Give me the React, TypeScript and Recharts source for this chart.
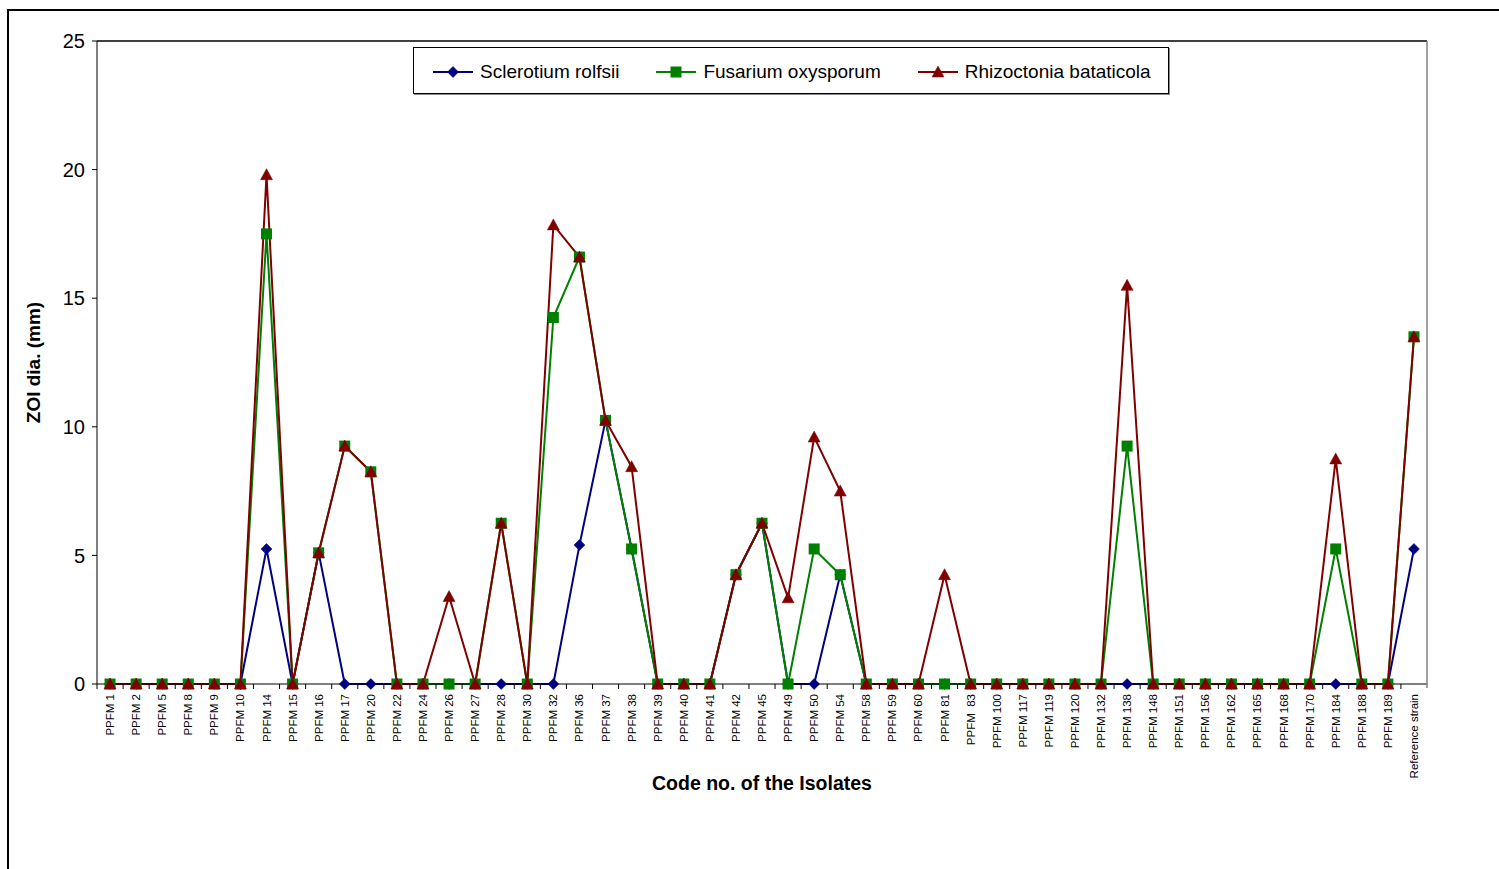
import React from 'react';
import { LineChart, Line, XAxis, YAxis, Legend } from 'recharts';

const categories = [
  'PPFM 1', 'PPFM 2', 'PPFM 5', 'PPFM 8', 'PPFM 9', 'PPFM 10', 'PPFM 14', 'PPFM 15', 'PPFM 16', 'PPFM 17',
  'PPFM 20', 'PPFM 22', 'PPFM 24', 'PPFM 26', 'PPFM 27', 'PPFM 28', 'PPFM 30', 'PPFM 32', 'PPFM 36', 'PPFM 37',
  'PPFM 38', 'PPFM 39', 'PPFM 40', 'PPFM 41', 'PPFM 42', 'PPFM 45', 'PPFM 49', 'PPFM 50', 'PPFM 54', 'PPFM 58',
  'PPFM 59', 'PPFM 60', 'PPFM 81', 'PPFM  83', 'PPFM 100', 'PPFM 117', 'PPFM 119', 'PPFM 120', 'PPFM 132', 'PPFM 138',
  'PPFM 148', 'PPFM 151', 'PPFM 156', 'PPFM 162', 'PPFM 165', 'PPFM 168', 'PPFM 170', 'PPFM 184', 'PPFM 188', 'PPFM 189',
  'Reference strain',
];

const sclerotium = [
  0, 0, 0, 0, 0, 0, 5.25, 0, 5.1, 0,
  0, 0, 0, 0, 0, 0, 0, 0, 5.4, 10.25,
  5.25, 0, 0, 0, 4.25, 6.25, 0, 0, 4.25, 0,
  0, 0, 0, 0, 0, 0, 0, 0, 0, 0,
  0, 0, 0, 0, 0, 0, 0, 0, 0, 0,
  5.25,
];

const fusarium = [
  0, 0, 0, 0, 0, 0, 17.5, 0, 5.1, 9.25,
  8.25, 0, 0, 0, 0, 6.25, 0, 14.25, 16.6, 10.25,
  5.25, 0, 0, 0, 4.25, 6.25, 0, 5.25, 4.25, 0,
  0, 0, 0, 0, 0, 0, 0, 0, 0, 9.25,
  0, 0, 0, 0, 0, 0, 0, 5.25, 0, 0,
  13.5,
];

const rhizoctonia = [
  0, 0, 0, 0, 0, 0, 19.8, 0, 5.1, 9.25,
  8.25, 0, 0, 3.4, 0, 6.25, 0, 17.85, 16.6, 10.25,
  8.45, 0, 0, 0, 4.25, 6.25, 3.35, 9.6, 7.5, 0,
  0, 0, 4.25, 0, 0, 0, 0, 0, 0, 15.5,
  0, 0, 0, 0, 0, 0, 0, 8.75, 0, 0,
  13.5,
];

const yTicks = [0, 5, 10, 15, 20, 25];

const seriesNames = ['Sclerotium rolfsii', 'Fusarium oxysporum', 'Rhizoctonia bataticola'];
const seriesColors = ['#000080', '#008000', '#800000'];

const data = categories.map((code, i) => ({
  code,
  s: sclerotium[i],
  f: fusarium[i],
  r: rhizoctonia[i],
}));

const FONT = '"Liberation Sans", Arial, sans-serif';
const CHART_W = 1491;
const CHART_H = 853;
const PLOT_W = 1330;
const BAND = PLOT_W / categories.length;
const PAD = { left: BAND / 2, right: BAND / 2 };

const markerShape = (kind: number, cx: number, cy: number, color: string, key?: string) => {
  if (kind === 0) {
    const h = 5.5;
    return (
      <polygon key={key} points={`${cx},${cy - h} ${cx + h},${cy} ${cx},${cy + h} ${cx - h},${cy}`} fill={color} stroke={color} strokeWidth={0.5} />
    );
  }
  if (kind === 1) {
    return <rect key={key} x={cx - 5.5} y={cy - 5.5} width={11} height={11} fill={color} />;
  }
  return (
    <polygon key={key} points={`${cx},${cy - 6} ${cx + 6},${cy + 5} ${cx - 6},${cy + 5}`} fill={color} stroke={color} strokeWidth={0.5} />
  );
};

const makeDot = (kind: number, color: string) => (props: any) => {
  const { cx, cy, index } = props;
  if (cx == null || cy == null) return <g key={`n-${kind}-${index}`} />;
  return markerShape(kind, cx, cy, color, `m-${kind}-${index}`);
};

const XTick = (props: any) => {
  const { x, y, payload, index } = props;
  const axisY = y - 10;
  const isLast = index === categories.length - 1;
  return (
    <g>
      <line x1={x - BAND / 2} x2={x - BAND / 2} y1={axisY} y2={axisY + 5} stroke="#000" strokeWidth={1} />
      {isLast && <line x1={x + BAND / 2} x2={x + BAND / 2} y1={axisY - 1} y2={axisY + 4} stroke="#808080" strokeWidth={1.5} />}
      <text
        transform={`translate(${x + 4},${y}) rotate(-90)`}
        textAnchor="end"
        fontSize={11.5}
        fontFamily={FONT}
        fill="#000"
        style={{ whiteSpace: 'pre' }}
      >
        {payload.value}
      </text>
    </g>
  );
};

const LegendBox = (props: any) => {
  const payload = (props && props.payload) || [];
  const items = seriesNames.map((name, i) => {
    const p = payload.find((e: any) => e.dataKey === ['s', 'f', 'r'][i]);
    return { name: p ? p.value : name, color: p ? p.color : seriesColors[i] };
  });
  return (
    <div
      style={{
        width: 756,
        height: 47,
        border: '1px solid #000',
        boxSizing: 'border-box',
        background: '#fff',
        boxShadow: '1px 1px 0 #888',
        fontFamily: FONT,
        fontSize: 19,
        color: '#000',
        display: 'flex',
        alignItems: 'center',
        paddingLeft: 19,
        paddingTop: 2,
      }}
    >
      {items.map((it, i) => (
        <div key={it.name} style={{ display: 'flex', alignItems: 'center', marginRight: 37 }}>
          <svg width={40} height={14} style={{ display: 'block' }}>
            <line x1={0} x2={40} y1={7} y2={7} stroke={it.color} strokeWidth={2} />
            {markerShape(i, 20, 7, it.color)}
          </svg>
          <span style={{ marginLeft: 7, whiteSpace: 'nowrap' }}>{it.name}</span>
        </div>
      ))}
    </div>
  );
};

const YLabel = (props: any) => {
  const vb = props.viewBox || { x: 29, y: 33, width: 60, height: 643 };
  const cy = vb.y + vb.height / 2;
  const bx = 32;
  return (
    <text
      transform={`translate(${bx},${cy}) rotate(-90)`}
      textAnchor="middle"
      fontSize={19}
      fontWeight="bold"
      fontFamily={FONT}
      fill="#000"
    >
      ZOI dia. (mm)
    </text>
  );
};

const XLabel = (props: any) => {
  const vb = props.viewBox || { x: 89, y: 676, width: 1330, height: 100 };
  const cx = vb.x + vb.width / 2;
  return (
    <text x={cx} y={782} textAnchor="middle" fontSize={19.5} fontWeight="bold" fontFamily={FONT} fill="#000">
      Code no. of the Isolates
    </text>
  );
};

export default function App() {
  return (
    <div style={{ position: 'relative', width: CHART_W, height: CHART_H, overflow: 'hidden', background: '#fff' }}>
      <LineChart
        width={CHART_W}
        height={CHART_H}
        data={data}
        margin={{ top: 32, right: 71, bottom: 77, left: 29 }}
      >
        <XAxis
          dataKey="code"
          interval={0}
          padding={PAD}
          tick={<XTick />}
          tickLine={false}
          tickSize={5}
          tickMargin={5}
          height={100}
          axisLine={{ stroke: '#000', strokeWidth: 1 }}
          label={{ content: <XLabel /> }}
        />
        <XAxis
          xAxisId="top"
          orientation="top"
          dataKey="code"
          interval={0}
          padding={PAD}
          tick={false}
          tickLine={false}
          height={1}
          axisLine={{ stroke: '#000', strokeWidth: 1.5 }}
        />
        <YAxis
          domain={[0, 25]}
          ticks={yTicks}
          interval={0}
          width={60}
          tickSize={5}
          tickMargin={7}
          tick={{ fontSize: 20, fill: '#000', fontFamily: FONT }}
          tickLine={{ stroke: '#000' }}
          axisLine={{ stroke: '#000', strokeWidth: 1 }}
          label={{ content: <YLabel /> }}
        />
        <YAxis
          yAxisId="right"
          orientation="right"
          domain={[0, 25]}
          ticks={yTicks}
          width={1}
          tick={false}
          tickLine={false}
          axisLine={{ stroke: '#808080', strokeWidth: 1.5 }}
        />
        <Legend
          content={<LegendBox />}
          layout="horizontal"
          verticalAlign="middle"
          align="center"
          wrapperStyle={{ left: 405, top: 39, width: 756, height: 47 }}
        />
        <Line
          type="linear"
          dataKey="s"
          name={seriesNames[0]}
          stroke={seriesColors[0]}
          strokeWidth={2}
          dot={makeDot(0, seriesColors[0])}
          activeDot={false}
          isAnimationActive={false}
        />
        <Line
          type="linear"
          dataKey="f"
          name={seriesNames[1]}
          stroke={seriesColors[1]}
          strokeWidth={2}
          dot={makeDot(1, seriesColors[1])}
          activeDot={false}
          isAnimationActive={false}
        />
        <Line
          type="linear"
          dataKey="r"
          xAxisId="top"
          yAxisId="right"
          name={seriesNames[2]}
          stroke={seriesColors[2]}
          strokeWidth={2}
          dot={makeDot(2, seriesColors[2])}
          activeDot={false}
          isAnimationActive={false}
        />
      </LineChart>
      <div
        style={{
          position: 'fixed',
          left: 7,
          top: 9,
          width: 1600,
          height: 1000,
          border: '2px solid #000',
          pointerEvents: 'none',
        }}
      />
    </div>
  );
}
